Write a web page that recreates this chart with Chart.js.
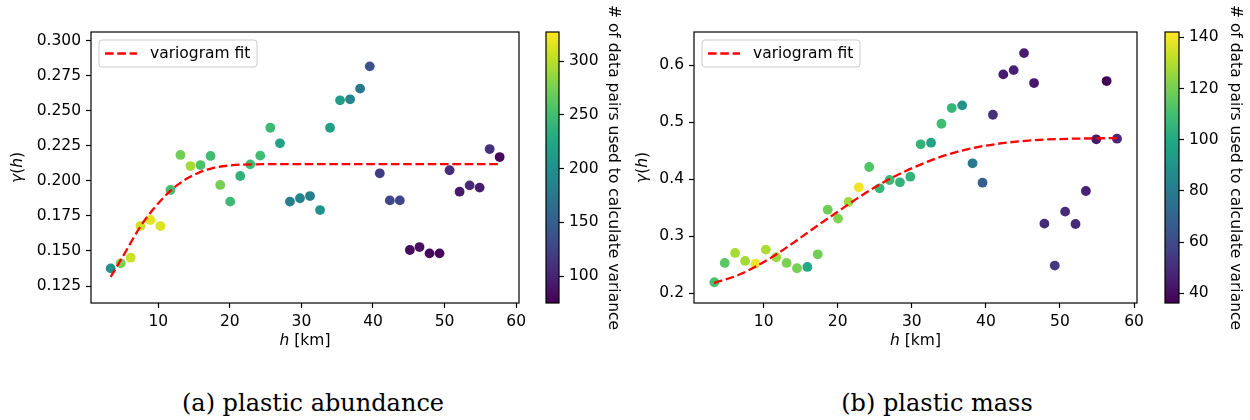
<!DOCTYPE html>
<html>
<head>
<meta charset="utf-8">
<script src="https://cdn.jsdelivr.net/npm/chart.js@4.4.0/dist/chart.umd.min.js"></script>
<style>
  body { margin:0; background:#fff; width:1250px; height:420px; position:relative; overflow:hidden; }
  canvas { position:absolute; top:0; }
  .cap { position:absolute; top:391px; width:600px; text-align:center; font-family:"DejaVu Serif"; font-size:24px; line-height:24px; color:#000; }
</style>
</head>
<body>
<canvas id="abund" width="540" height="360" style="left:0px"></canvas>
<canvas id="abundBar" width="110" height="360" style="left:530px"></canvas>
<canvas id="mass" width="520" height="360" style="left:630px"></canvas>
<canvas id="massBar" width="100" height="360" style="left:1150px"></canvas>
<div class="cap" style="left:13px">(a) plastic abundance</div>
<div class="cap" style="left:637px">(b) plastic mass</div>
<script>
// lag distances (km), same for both panels
const lagKm = [3.35, 4.75, 6.15, 7.5, 8.9, 10.3, 11.7, 13.1, 14.5, 15.9,
  17.3, 18.65, 20.05, 21.45, 22.85, 24.25, 25.65, 27.0, 28.4, 29.8,
  31.2, 32.6, 34.0, 35.4, 36.8, 38.2, 39.55, 40.95, 42.35, 43.75,
  45.15, 46.5, 47.9, 49.3, 50.7, 52.1, 53.5, 54.9, 56.3, 57.7];

// (a) plastic abundance
const abundGamma = [0.1376, 0.1412, 0.1452, 0.1678, 0.1721, 0.1678, 0.1935, 0.2185, 0.2106, 0.2113,
  0.2178, 0.1971, 0.1852, 0.2035, 0.2118, 0.2180, 0.2379, 0.2268, 0.1852, 0.1876,
  0.1892, 0.1792, 0.2379, 0.2575, 0.2582, 0.2658, 0.2817, 0.2054, 0.1861, 0.1861,
  0.1507, 0.1528, 0.1483, 0.1483, 0.2076, 0.1923, 0.1968, 0.1952, 0.2227, 0.2170];
const abundPairs = [201, 277, 307, 309, 317, 314, 249, 272, 292, 254,
  249, 274, 246, 236, 246, 249, 246, 221, 183, 186,
  183, 204, 216, 214, 188, 176, 138, 120, 128, 128,
  83, 85, 80, 80, 108, 93, 105, 95, 110, 80];
const abundFitKm    = [3.35, 5.5, 7.5, 9.5, 11.6, 13.5, 15.5, 17.5, 20, 23, 30, 57.7];
const abundFitGamma = [0.1315, 0.150, 0.1675, 0.181, 0.1925, 0.200, 0.2055, 0.209, 0.211, 0.2118, 0.212, 0.212];
const abundYTicks = [0.125, 0.150, 0.175, 0.200, 0.225, 0.250, 0.275, 0.300];
const abundPairTicks = [100, 150, 200, 250, 300];
const abundPairRange = [74.9, 327];

// (b) plastic mass
const massGamma = [0.2194, 0.2532, 0.2707, 0.2567, 0.2520, 0.2766, 0.2632, 0.2532, 0.2439, 0.2462,
  0.2684, 0.3466, 0.3309, 0.3601, 0.3858, 0.4214, 0.3840, 0.3986, 0.3945, 0.4044,
  0.4611, 0.4640, 0.4972, 0.5247, 0.5294, 0.4278, 0.3939, 0.5130, 0.5837, 0.5912,
  0.6210, 0.5685, 0.3221, 0.2486, 0.3431, 0.3215, 0.3793, 0.4699, 0.5720, 0.4710];
const massPairs = [111, 115, 128, 127, 140, 129, 126, 121, 120, 100,
  119, 119, 122, 127, 140, 113, 106, 108, 105, 105,
  105, 97, 109, 106, 90, 79, 68, 51, 45, 46,
  45, 43, 49, 54, 49, 49, 46, 44, 37, 49];
const massFitKm    = [3.3, 6.4, 9.1, 11.8, 14.5, 17.2, 19.9, 22.6, 25.3, 28.0, 30.7, 33.4, 36.1, 39.2, 42.8, 47.3, 51.8, 57.7];
const massFitGamma = [0.218, 0.231, 0.248, 0.269, 0.293, 0.318, 0.342, 0.366, 0.388, 0.407, 0.423, 0.437, 0.448, 0.457, 0.464, 0.469, 0.471, 0.472];
const massYTicks = [0.2, 0.3, 0.4, 0.5, 0.6];
const massPairTicks = [40, 60, 80, 100, 120, 140];
const massPairRange = [36.2, 142.1];

const xTicks = [10, 20, 30, 40, 50, 60];

const FONT = '"DejaVu Sans"';
const FS = 15.5;
const VIRIDIS = ['#440154','#482475','#414487','#355f8d','#2a788e','#21918c','#22a884','#44bf70','#7ad151','#bddf26','#fde725'];

function hex(h){ return [1,3,5].map(i=>parseInt(h.substr(i,2),16)); }
function viridis(t){
  t = Math.max(0, Math.min(1, t));
  const f = t*10, i = Math.min(9, Math.floor(f)), u = f-i;
  const a = hex(VIRIDIS[i]), b = hex(VIRIDIS[i+1]);
  return 'rgb(' + a.map((v,k)=>Math.round(v+(b[k]-v)*u)).join(',') + ')';
}

// text made of upright / italic pieces (mathtext style labels)
function drawParts(ctx, parts, x, y, rot){
  ctx.save();
  ctx.translate(x, y); ctx.rotate(rot);
  ctx.textBaseline = 'middle'; ctx.textAlign = 'left'; ctx.fillStyle = '#000';
  const fonts = parts.map(p => (p.i ? 'italic ' : '') + FS + 'px ' + FONT);
  let w = 0;
  const ws = parts.map((p,k)=>{ ctx.font = fonts[k]; const m = ctx.measureText(p.t).width; w += m; return m; });
  let cx = -w/2;
  parts.forEach((p,k)=>{ ctx.font = fonts[k]; ctx.fillText(p.t, cx, 0); cx += ws[k]; });
  ctx.restore();
}

const deco = {
  id: 'deco',
  beforeDatasetsDraw(chart, args, o){
    if (!o.bar) return;
    const {ctx, chartArea:a} = chart;
    const g = ctx.createLinearGradient(0, a.bottom, 0, a.top);
    VIRIDIS.forEach((c,i)=>g.addColorStop(i/10, c));
    ctx.save(); ctx.fillStyle = g; ctx.fillRect(a.left, a.top, a.right-a.left, a.bottom-a.top); ctx.restore();
  },
  afterDraw(chart, args, o){
    const {ctx, chartArea:a} = chart;
    ctx.save();
    ctx.strokeStyle = '#000'; ctx.lineWidth = 1.2;
    ctx.strokeRect(a.left, a.top, a.right-a.left, a.bottom-a.top);
    if (o.legend){
      const ds = chart.data.datasets[0];
      const bx = a.left+8, by = a.top+8, bw = 158, bh = 27;
      ctx.beginPath(); ctx.roundRect(bx, by, bw, bh, 3);
      ctx.fillStyle = 'rgba(255,255,255,0.8)'; ctx.fill();
      ctx.strokeStyle = '#cccccc'; ctx.lineWidth = 1; ctx.stroke();
      ctx.beginPath(); ctx.setLineDash(ds.borderDash); ctx.strokeStyle = ds.borderColor; ctx.lineWidth = ds.borderWidth;
      ctx.moveTo(bx+6, by+13.5); ctx.lineTo(bx+38, by+13.5); ctx.stroke(); ctx.setLineDash([]);
      ctx.fillStyle = '#000'; ctx.font = FS+'px '+FONT; ctx.textBaseline = 'middle';
      ctx.fillText(ds.label, bx+51, by+14);
    }
    if (o.yGap) drawParts(ctx, [{t:'γ',i:true},{t:'('},{t:'h',i:true},{t:')'}], a.left-o.yGap, (a.top+a.bottom)/2, -Math.PI/2);
    if (o.xTitle) drawParts(ctx, [{t:'h',i:true},{t:' [km]'}], (a.left+a.right)/2, a.bottom+38, 0);
    if (o.barGap) drawParts(ctx, [{t:'# of data pairs used to calculate variance'}], a.right+o.barGap, (a.top+a.bottom)/2, Math.PI/2);
    ctx.restore();
  }
};

function tickAxis(extra, fmt){
  return Object.assign({
    grid: { display:true, drawOnChartArea:false, drawTicks:true, tickLength:5, tickWidth:1.2, tickColor:'#000' },
    border: { display:false },
    ticks: { color:'#000', padding:5, font:{ family:'DejaVu Sans', size:FS }, callback: fmt || (v => String(v)) }
  }, extra);
}

function mainChart(id, gamma, pairs, pairRange, fitKm, fitGamma, yMin, yMax, yTicks, dec, yWidth, rightPad, yGap){
  const pts = lagKm.map((h,i)=>({x:h, y:gamma[i]}));
  const cols = pairs.map(v=>viridis((v-pairRange[0])/(pairRange[1]-pairRange[0])));
  const fit = fitKm.map((h,i)=>({x:h, y:fitGamma[i]}));
  new Chart(document.getElementById(id), {
    type: 'scatter',
    data: { datasets: [
      { type:'line', label:'variogram fit', data:fit, borderColor:'#ff0000', borderWidth:2.3, borderDash:[8.6,3.7],
        pointRadius:0, fill:false, cubicInterpolationMode:'monotone', order:0 },
      { label:'points', data:pts, pointBackgroundColor:cols, pointBorderWidth:0, pointRadius:4.9, order:1 }
    ]},
    plugins: [deco],
    options: {
      responsive:false, animation:false, events:[],
      layout: { padding:{ left:0, top:32, right:rightPad, bottom:0 } },
      plugins: { legend:{display:false}, tooltip:{enabled:false}, deco:{ legend:true, yGap:yGap, xTitle:true } },
      scales: {
        x: tickAxis({ type:'linear', min:0.6, max:60.4,
          afterBuildTicks: s => { s.ticks = xTicks.map(v=>({value:v})); },
          afterFit: s => { s.height = 57; } }),
        y: tickAxis({ type:'linear', min:yMin, max:yMax,
          afterBuildTicks: s => { s.ticks = yTicks.map(v=>({value:v})); },
          afterFit: s => { s.width = yWidth; } }, v => v.toFixed(dec))
      }
    }
  });
}

// colour bar: a chart with only a right-hand axis, gradient painted by the plugin
function barChart(id, range, ticks, leftPad, axisWidth, barGap){
  new Chart(document.getElementById(id), {
    type: 'scatter',
    data: { datasets: [] },
    plugins: [deco],
    options: {
      responsive:false, animation:false, events:[],
      layout: { padding:{ left:leftPad, top:32, right:0, bottom:57 } },
      plugins: { legend:{display:false}, tooltip:{enabled:false}, deco:{ bar:true, barGap:barGap } },
      scales: {
        x: { display:false, min:0, max:1 },
        y: tickAxis({ type:'linear', position:'right', min:range[0], max:range[1],
          afterBuildTicks: s => { s.ticks = ticks.map(v=>({value:v})); },
          afterFit: s => { s.width = axisWidth; } })
      }
    }
  });
}

mainChart('abund', abundGamma, abundPairs, abundPairRange, abundFitKm, abundFitGamma, 0.1129, 0.3062, abundYTicks, 3, 91, 21, 73);
mainChart('mass', massGamma, massPairs, massPairRange, massFitKm, massFitGamma, 0.183, 0.658, massYTicks, 1, 64, 13, 51);
barChart('abundBar', abundPairRange, abundPairTicks, 16, 81, 54);
barChart('massBar', massPairRange, massPairTicks, 15, 71, 56);
</script>
</body>
</html>
